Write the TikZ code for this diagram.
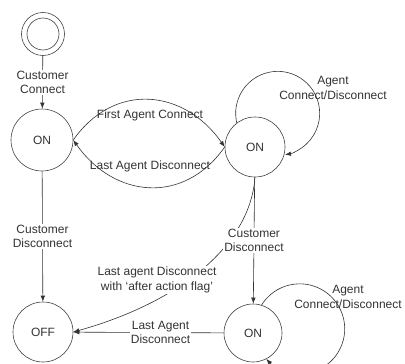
\documentclass[tikz,border=0pt]{standalone}
\usepackage{fontspec}
\setmainfont{Liberation Sans}
\usetikzlibrary{arrows.meta}
\begin{document}
\begin{tikzpicture}[x=1pt, y=1pt,
        >={Latex[length=6pt,width=4.5pt]},
        font=\fontsize{12}{14.5}\selectfont,
        state/.style={circle, draw=black!75, line width=0.6pt, minimum size=60pt, inner sep=0pt, text=black!80},
        trans/.style={->, draw=black!80, line width=0.6pt},
        lbl/.style={fill=white, inner sep=1pt, align=center, text=black!80},
        txt/.style={align=center, text=black!80}]
        \useasboundingbox (0,0) rectangle (405,-364);
        % Initial state (double circle)
        \node[state, minimum size=43pt] (init) at (43,-34) {};
        \draw[black!75, line width=0.6pt] (init.center) circle (16);
        % States
        \node[state, minimum size=62pt] (onA) at (42,-140) {ON};
        \node[state] (onB) at (255,-147) {ON};
        \node[state, minimum size=58pt] (onC) at (253,-333) {ON};
        \node[state] (off) at (43,-332) {OFF};
        % Customer connect / disconnect
        \draw[trans] (init) -- node[lbl] {Customer\\Connect} (onA);
        \draw[trans] (onA) -- node[lbl] {Customer\\Disconnect} (off);
        % Disconnect with after action flag
        \draw[trans] (onB.south) .. controls +(-5,-68) and +(107,30) .. (off.east);
        \node[lbl] (flagLbl) at (157,-280) {Last agent Disconnect\\with `after action flag'};
        \draw[trans] (onB) -- node[lbl] {Customer\\Disconnect} (onC);
        \draw[trans] (onC) -- node[lbl, pos=0.42] {Last Agent\\Disconnect} (off);
        % First / last agent between the ON states
        \draw[trans] (onA.east) to[out=55, in=125, looseness=1.2] (onB.west);
        \draw[trans] (onB.west) to[out=-125, in=-55, looseness=1.2] (onA.east);
        \node[txt] (firstLbl) at (150,-115) {First Agent Connect};
        \node[txt] (lastLbl) at (150,-166) {Last Agent Disconnect};
        % Agent self loops
        \draw[trans] (onB.127) arc[start angle=193, end angle=-80, radius=42];
        \node[txt] (loopB) at (333,-88) {Agent\\Connect/Disconnect};
        \draw[trans] (onC.73) arc[start angle=148, end angle=-138, radius=45];
        \node[txt] (loopC) at (348,-297) {Agent\\Connect/Disconnect};
\end{tikzpicture}
\end{document}
